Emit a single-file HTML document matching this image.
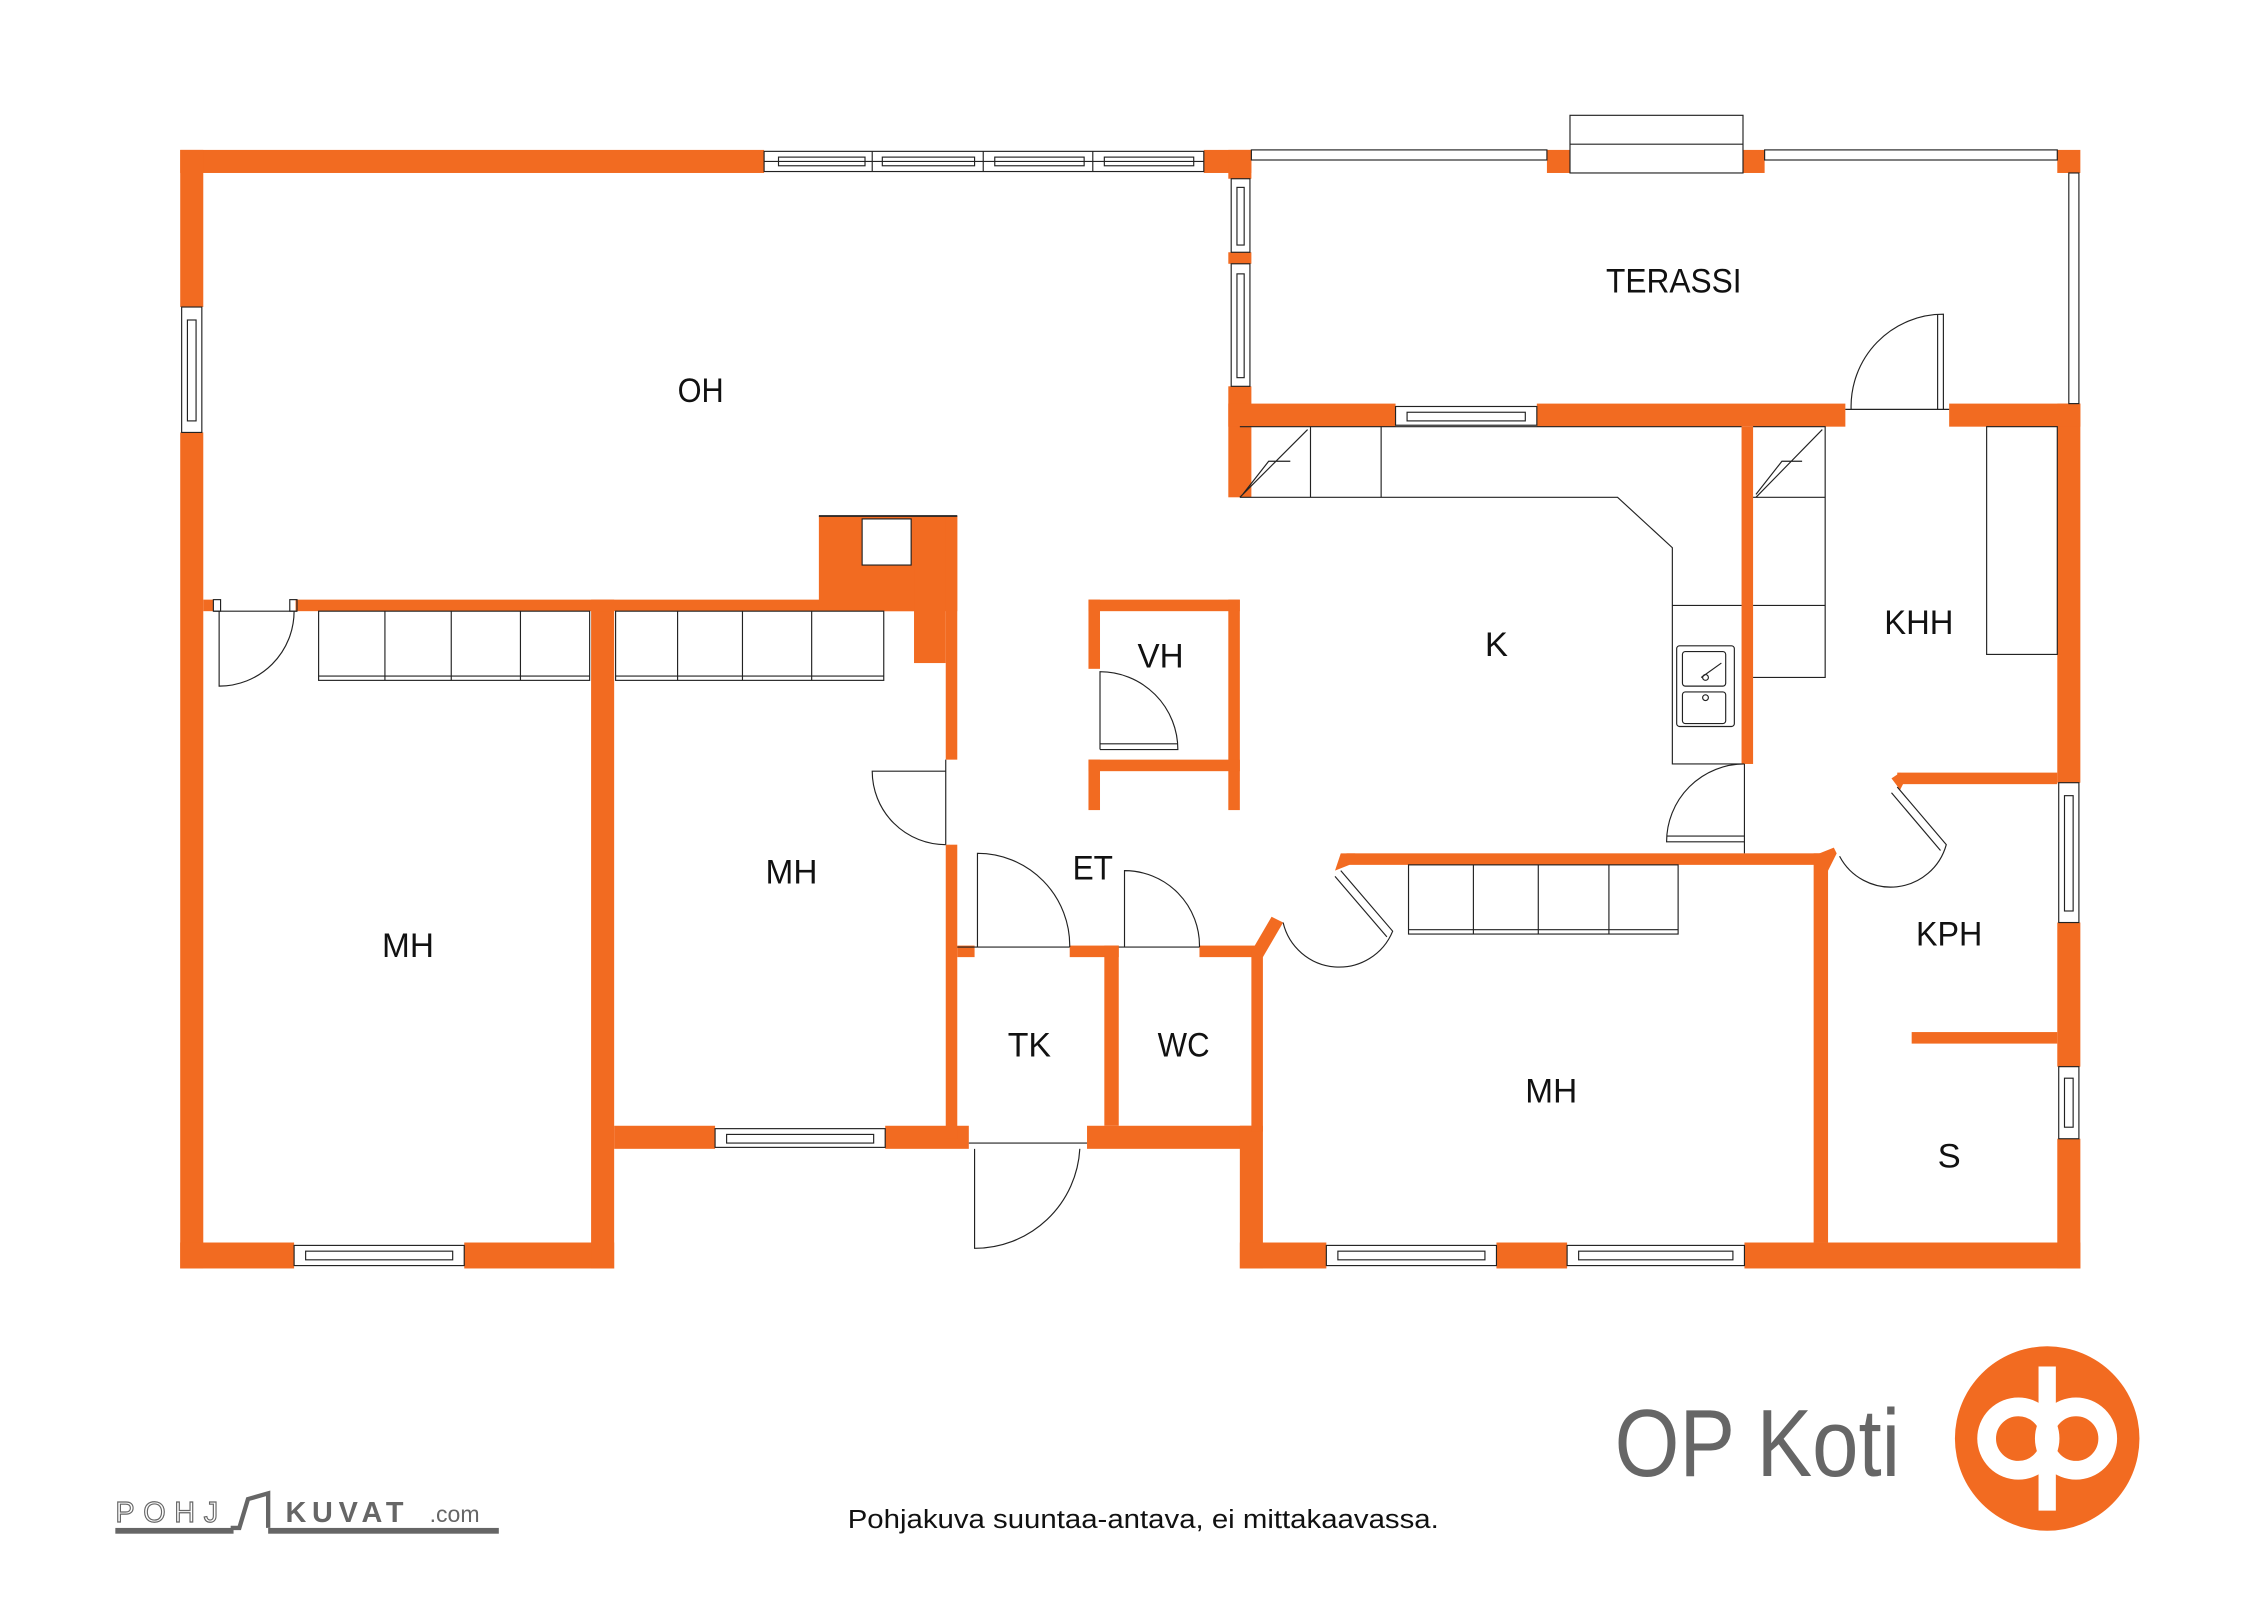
<!DOCTYPE html>
<html><head><meta charset="utf-8"><style>
html,body{margin:0;padding:0;background:#fff;}
svg{display:block;}
text{font-family:"Liberation Sans",sans-serif;}
</style></head><body>
<svg width="2262" height="1600" viewBox="0 0 1569 1110" preserveAspectRatio="none" xmlns="http://www.w3.org/2000/svg">
<rect width="1569" height="1110" fill="#fff"/>
<g fill="#F26B21">
<rect x="125" y="104" width="405" height="16"/>
<rect x="835" y="104" width="33" height="16"/>
<rect x="125" y="104" width="16" height="109"/>
<rect x="125" y="300" width="16" height="580"/>
<rect x="125" y="862" width="79" height="18"/>
<rect x="322" y="862" width="104" height="18"/>
<rect x="410" y="416" width="16" height="464"/>
<rect x="426" y="781" width="70" height="16"/>
<rect x="614" y="781" width="58" height="16"/>
<rect x="754" y="781" width="114" height="16"/>
<rect x="860" y="781" width="16" height="99"/>
<rect x="860" y="862" width="60" height="18"/>
<rect x="1038" y="862" width="49" height="18"/>
<rect x="1210" y="862" width="233" height="18"/>
<rect x="1427" y="280" width="16" height="263"/>
<rect x="1427" y="640" width="16" height="100"/>
<rect x="1427" y="790" width="16" height="90"/>
<rect x="1352" y="280" width="91" height="16"/>
<rect x="1073" y="104" width="16" height="16"/>
<rect x="1209" y="104" width="15" height="16"/>
<rect x="1427" y="104" width="16" height="16"/>
<rect x="852" y="104" width="16" height="20"/>
<rect x="852" y="175" width="16" height="8"/>
<rect x="852" y="268" width="16" height="77"/>
<rect x="852" y="280" width="116" height="16"/>
<rect x="1066" y="280" width="214" height="16"/>
<rect x="141" y="416" width="7" height="8"/>
<rect x="205" y="416" width="430" height="8"/>
<rect x="568" y="358" width="96" height="66"/>
<rect x="634" y="358" width="22" height="102"/>
<rect x="656" y="358" width="8" height="169"/>
<rect x="656" y="586" width="8" height="204"/>
<rect x="664" y="656" width="12" height="8"/>
<rect x="742" y="656" width="34" height="8"/>
<rect x="766" y="656" width="10" height="125"/>
<rect x="832" y="656" width="44" height="8"/>
<rect x="868" y="660" width="8" height="125"/>
<polygon points="868,660 876,664 890,640 882,636"/>
<polygon points="926,604 936,600 940,592 930,592"/>
<rect x="934" y="592" width="334" height="8"/>
<rect x="1258" y="592" width="10" height="270"/>
<polygon points="1262,592 1268,604 1274,592 1272,588"/>
<rect x="1316" y="536" width="111" height="8"/>
<polygon points="1312,540 1318,548 1322,540 1318,536"/>
<rect x="1326" y="716" width="101" height="8"/>
<rect x="1208" y="296" width="8" height="234"/>
<rect x="755" y="416" width="105" height="8"/>
<rect x="755" y="416" width="8" height="48"/>
<rect x="852" y="416" width="8" height="146"/>
<rect x="755" y="527" width="105" height="8"/>
<rect x="755" y="527" width="8" height="35"/>
</g>
<g fill="#fff" stroke="#222" stroke-width="0.8">
<rect x="598" y="360" width="34" height="32"/>
<rect x="530" y="105" width="305" height="14"/>
<rect x="204" y="864" width="118" height="14"/>
<rect x="496" y="783" width="118" height="13"/>
<rect x="920" y="864" width="118" height="14"/>
<rect x="1087" y="864" width="123" height="14"/>
<rect x="968" y="282" width="98" height="13"/>
<rect x="868" y="104" width="205" height="7"/>
<rect x="1224" y="104" width="203" height="7"/>
<rect x="1089" y="80" width="120" height="40"/>
<rect x="126" y="213" width="14" height="87"/>
<rect x="854" y="124" width="13" height="51"/>
<rect x="854" y="183" width="13" height="85"/>
<rect x="1428" y="543" width="14" height="97"/>
<rect x="1428" y="740" width="14" height="50"/>
<rect x="1435" y="120" width="7" height="160"/>
</g>
<g fill="none" stroke="#222" stroke-width="0.8">
<line x1="530" y1="112" x2="835" y2="112"/>
<line x1="605" y1="105" x2="605" y2="119"/><line x1="682" y1="105" x2="682" y2="119"/><line x1="758" y1="105" x2="758" y2="119"/>
<rect x="540" y="109" width="60" height="6"/><rect x="612" y="109" width="64" height="6"/><rect x="690" y="109" width="62" height="6"/><rect x="766" y="109" width="62" height="6"/>
<rect x="212" y="868" width="102" height="6"/><rect x="504" y="787" width="102" height="6"/>
<rect x="928" y="868" width="102" height="6"/><rect x="1095" y="868" width="107" height="6"/>
<rect x="976" y="286" width="82" height="6"/>
<line x1="1089" y1="100" x2="1209" y2="100"/>
<rect x="130" y="222" width="6" height="70"/><rect x="858" y="130" width="5" height="40"/><rect x="858" y="190" width="5" height="72"/>
<rect x="1432" y="552" width="6" height="80"/><rect x="1432" y="748" width="6" height="34"/>
<path d="M152,424 L152,476 A52,52 0 0 0 204,424"/><rect x="148" y="416" width="5" height="8"/><rect x="201" y="416" width="5" height="8"/><line x1="148" y1="424" x2="206" y2="424"/>
<path d="M656,535 L605,535 A51,51 0 0 0 656,586"/><line x1="656" y1="527" x2="656" y2="586"/>
<path d="M678,657 L678,592 A64,64 0 0 1 742,657"/><line x1="664" y1="657" x2="742" y2="657"/>
<path d="M780,657 L780,604 A52,52 0 0 1 832,657"/><line x1="776" y1="657" x2="832" y2="657"/>
<path d="M676,797 L676,866 A73,73 0 0 0 749,797"/><line x1="672" y1="793" x2="754" y2="793"/>
<path d="M763,520 L763,466 A54,54 0 0 1 817,520 L763,520"/><line x1="763" y1="516" x2="817" y2="516"/>
<path d="M1210,584 L1156,584 A54,54 0 0 1 1210,530"/><line x1="1210" y1="530" x2="1210" y2="592"/><line x1="1156" y1="580" x2="1210" y2="580"/>
<path d="M1284,284 A64,64 0 0 1 1348,218 L1348,284"/><line x1="1280" y1="284" x2="1352" y2="284"/><line x1="1344" y1="218" x2="1344" y2="284"/>
<path d="M930,604 L966,646 A40,40 0 0 1 890,640"/><path d="M926,608 L962,650"/>
<path d="M1316,546 L1350,586 A40,40 0 0 1 1276,594"/><path d="M1312,550 L1346,590"/>
<path d="M860,296 L1208,296"/>
<path d="M860,345 L1122,345 L1160,380 L1160,530 L1208,530"/>
<line x1="909" y1="296" x2="909" y2="345"/><line x1="958" y1="296" x2="958" y2="345"/>
<path d="M860,345 L907,298 M895,320 L880,320 L862,343"/>
<line x1="1160" y1="420" x2="1208" y2="420"/>
<rect x="1163" y="448" width="40" height="56" rx="2"/><rect x="1167" y="452" width="30" height="24" rx="2"/><rect x="1167" y="480" width="30" height="22" rx="2"/>
<line x1="1180" y1="470" x2="1194" y2="460"/><circle cx="1183" cy="470" r="2"/><circle cx="1183" cy="484" r="2"/>
<path d="M1216,296 L1266,296 L1266,470 L1216,470"/><line x1="1216" y1="345" x2="1266" y2="345"/><line x1="1216" y1="420" x2="1266" y2="420"/>
<path d="M1218,345 L1264,298 M1250,320 L1236,320 L1218,343"/>
<rect x="1378" y="296" width="49" height="158"/>
<rect x="221" y="424" width="188" height="48"/><line x1="267" y1="424" x2="267" y2="472"/><line x1="313" y1="424" x2="313" y2="472"/><line x1="361" y1="424" x2="361" y2="472"/><line x1="221" y1="469" x2="409" y2="469"/>
<rect x="427" y="424" width="186" height="48"/><line x1="470" y1="424" x2="470" y2="472"/><line x1="515" y1="424" x2="515" y2="472"/><line x1="563" y1="424" x2="563" y2="472"/><line x1="427" y1="469" x2="613" y2="469"/>
<rect x="977" y="600" width="187" height="48"/><line x1="1022" y1="600" x2="1022" y2="648"/><line x1="1067" y1="600" x2="1067" y2="648"/><line x1="1116" y1="600" x2="1116" y2="648"/><line x1="977" y1="645" x2="1164" y2="645"/>
<line x1="568" y1="358" x2="664" y2="358" stroke-width="1.2"/>
</g>
<g fill="#111" font-size="24" text-anchor="middle">
<text x="486" y="279" textLength="32" lengthAdjust="spacingAndGlyphs">OH</text>
<text x="1161" y="203" textLength="94" lengthAdjust="spacingAndGlyphs">TERASSI</text>
<text x="1038" y="455">K</text>
<text x="1331" y="440" textLength="48" lengthAdjust="spacingAndGlyphs">KHH</text>
<text x="805" y="463" textLength="32" lengthAdjust="spacingAndGlyphs">VH</text>
<text x="283" y="664" textLength="36" lengthAdjust="spacingAndGlyphs">MH</text>
<text x="549" y="613" textLength="36" lengthAdjust="spacingAndGlyphs">MH</text>
<text x="758" y="610" textLength="28" lengthAdjust="spacingAndGlyphs">ET</text>
<text x="714" y="733" textLength="30" lengthAdjust="spacingAndGlyphs">TK</text>
<text x="821" y="733" textLength="36" lengthAdjust="spacingAndGlyphs">WC</text>
<text x="1076" y="765" textLength="36" lengthAdjust="spacingAndGlyphs">MH</text>
<text x="1352" y="656" textLength="46" lengthAdjust="spacingAndGlyphs">KPH</text>
<text x="1352" y="810">S</text>
</g>
<text x="588" y="1060" font-size="18" fill="#111" textLength="410" lengthAdjust="spacingAndGlyphs">Pohjakuva suuntaa-antava, ei mittakaavassa.</text>
<text x="1120" y="1024" font-size="66" fill="#666" textLength="198" lengthAdjust="spacingAndGlyphs">OP Koti</text>
<circle cx="1420" cy="998" r="64" fill="#F26B21"/>
<circle cx="1400" cy="998" r="22" fill="none" stroke="#fff" stroke-width="13"/>
<circle cx="1440" cy="998" r="22" fill="none" stroke="#fff" stroke-width="13"/>
<rect x="1414" y="948" width="12" height="100" fill="#fff"/>
<g font-size="20" fill="#fff" stroke="#666" stroke-width="0.8" letter-spacing="6"><text x="80" y="1056">POHJ</text></g>
<path d="M160,1060 L166,1060 L172,1040 L186,1036 L186,1060" fill="none" stroke="#666" stroke-width="3"/>
<text x="198" y="1056" font-size="20" font-weight="bold" fill="#666" letter-spacing="4">KUVAT</text>
<text x="298" y="1056" font-size="16" fill="#666">.com</text>
<rect x="80" y="1060" width="82" height="4" fill="#666"/><rect x="186" y="1060" width="160" height="4" fill="#666"/>
</svg>
</body></html>
